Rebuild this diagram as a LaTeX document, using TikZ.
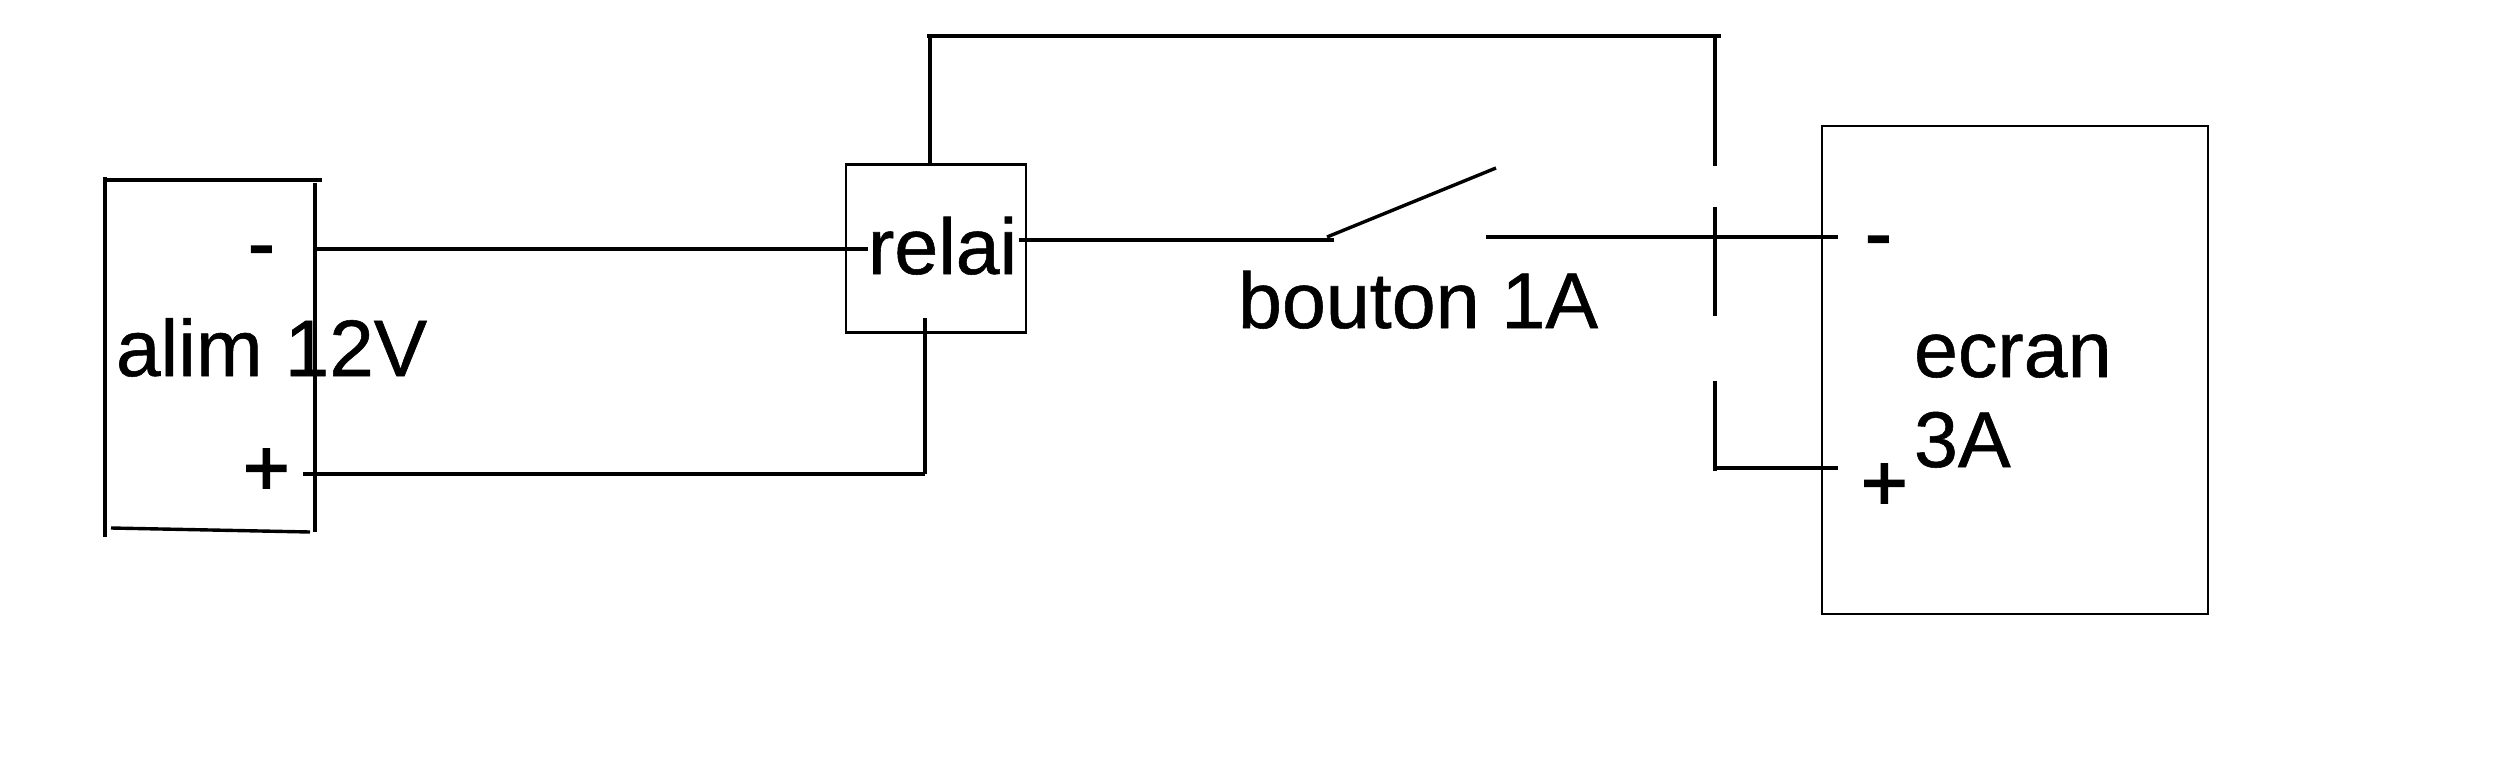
\documentclass[tikz,border=0pt]{standalone}
\usepackage{fontspec}
\setmainfont{Liberation Sans}
\newfontfamily\textfontx[FakeBold=0.7]{Liberation Sans}
\newfontfamily\signfont[FakeBold=2]{Liberation Sans}
\tikzset{
  wire/.style={draw=black,line width=3.4pt},
  thinbox/.style={draw=black,line width=2.2pt,fill=none,inner sep=0pt,outer sep=0pt},
  lbl/.style={anchor=base west,inner sep=0pt,outer sep=0pt,text=black,font=\textfontx\fontsize{79}{90}\selectfont},
  sign/.style={anchor=base west,inner sep=0pt,outer sep=0pt,text=black,font=\signfont\fontsize{80}{90}\selectfont}
}
\begin{document}
\begin{tikzpicture}[x=1pt,y=-1pt]
\useasboundingbox (0,0) rectangle (2500,768);
% boxes
\node[thinbox,minimum width=180pt,minimum height=168pt] (relaibox) at (936,248.5) {};
\node[thinbox,minimum width=386pt,minimum height=488pt] (ecranbox) at (2015,370) {};
% labels
\node[lbl,font=\textfontx\fontsize{80}{90}\selectfont] (alim) at (116,376) {alim 12V};
\node[sign] (aminus) at (248,270.5) {-};
\node[sign] (aplus) at (243,495) {+};
\node[lbl] (relai) at (868,274) {relai};
\node[lbl] (bouton) at (1238,328) {bouton 1A};
\node[lbl] (ecran) at (1914,377) {ecran};
\node[lbl] (troisA) at (1914,467) {3A};
\node[sign] (eminus) at (1865,260.5) {-};
\node[sign] (eplus) at (1861,510) {+};
% alim box corners
\coordinate (atl) at (103,180); \coordinate (atr) at (322,180);
\coordinate (alt) at (105,177); \coordinate (alb) at (105,537);
\coordinate (art) at (315,183); \coordinate (arb) at (315,532);
\coordinate (abl) at (111,528); \coordinate (abr) at (310,532);
% wire points
\coordinate (m1) at (317,249); \coordinate (m2) at (868,249);
\coordinate (p1) at (303,474); \coordinate (p2) at (925,474);
\coordinate (p3) at (925,318);
\coordinate (r1) at (1019,240); \coordinate (r2) at (1334,240);
\coordinate (s1) at (1327,237); \coordinate (s2) at (1496,168);
\coordinate (e1) at (1486,237); \coordinate (e2) at (1838,237);
\coordinate (t1) at (930,163); \coordinate (t2) at (930,36);
\coordinate (t0) at (927,36); \coordinate (t3) at (1721,36);
\coordinate (v1) at (1715,36); \coordinate (v2) at (1715,166);
\coordinate (v3) at (1715,207); \coordinate (v4) at (1715,316);
\coordinate (v5) at (1715,381); \coordinate (v6) at (1715,471);
\coordinate (h1) at (1715,468); \coordinate (h2) at (1838,468);
% alim box
\draw[wire] (atl) -- (atr);
\draw[wire] (alt) -- (alb);
\draw[wire] (art) -- (arb);
\draw[wire] (abl) -- (abr);
% wires
\draw[wire] (m1) -- (m2);
\draw[wire] (p1) -- (p2);
\draw[wire] (p2) -- (p3);
\draw[wire] (r1) -- (r2);
\draw[wire] (s1) -- (s2);
\draw[wire] (e1) -- (e2);
\draw[wire] (t1) -- (t2);
\draw[wire] (t0) -- (t3);
\draw[wire] (v1) -- (v2);
\draw[wire] (v3) -- (v4);
\draw[wire] (v5) -- (v6);
\draw[wire] (h1) -- (h2);
\end{tikzpicture}
\end{document}
